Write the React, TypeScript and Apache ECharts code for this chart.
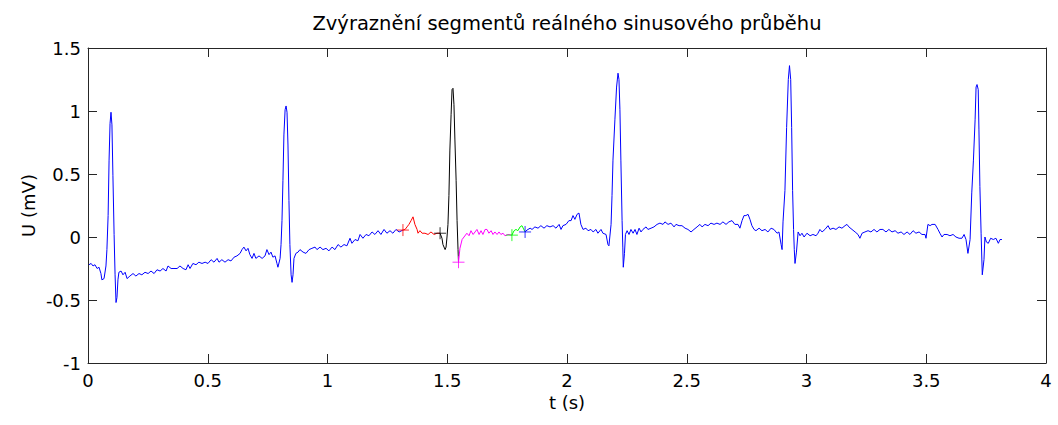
import React, { useEffect, useRef } from "react";
import * as echarts from "echarts";

const TITLE = "Zvýraznění segmentů reálného sinusového průběhu";
const X_NAME = "t (s)";
const Y_NAME = "U (mV)";

// [t (s), U (mV)]
const blueA: number[][] = [
  [0.004, -0.22], [0.013, -0.21], [0.021, -0.23], [0.029, -0.22], [0.038, -0.25], [0.046, -0.24],
  [0.054, -0.29], [0.058, -0.34], [0.067, -0.33], [0.075, -0.23], [0.079, -0.10], [0.084, 0.17],
  [0.088, 0.61], [0.092, 0.90], [0.096, 0.99], [0.100, 0.89], [0.104, 0.49], [0.109, 0.02],
  [0.113, -0.30], [0.117, -0.52], [0.121, -0.48], [0.125, -0.34], [0.129, -0.28], [0.138, -0.27],
  [0.146, -0.30], [0.155, -0.28], [0.163, -0.33], [0.175, -0.31], [0.188, -0.29], [0.200, -0.31],
  [0.213, -0.29], [0.225, -0.30], [0.238, -0.28], [0.251, -0.29], [0.263, -0.27], [0.276, -0.29],
  [0.288, -0.26], [0.301, -0.27], [0.313, -0.25], [0.326, -0.27], [0.334, -0.23], [0.347, -0.25],
  [0.359, -0.25], [0.372, -0.25], [0.384, -0.23], [0.397, -0.25], [0.409, -0.26], [0.418, -0.22],
  [0.426, -0.25], [0.438, -0.21], [0.451, -0.22], [0.463, -0.20], [0.476, -0.21], [0.489, -0.20],
  [0.501, -0.21], [0.514, -0.18], [0.526, -0.20], [0.539, -0.17], [0.547, -0.20], [0.559, -0.18],
  [0.572, -0.20], [0.585, -0.18], [0.597, -0.19], [0.610, -0.16], [0.622, -0.15], [0.635, -0.13],
  [0.643, -0.10], [0.651, -0.08], [0.660, -0.11], [0.668, -0.09], [0.676, -0.14], [0.685, -0.17],
  [0.693, -0.13], [0.701, -0.17], [0.714, -0.15], [0.727, -0.17], [0.739, -0.15], [0.747, -0.10],
  [0.756, -0.14], [0.764, -0.12], [0.772, -0.16], [0.781, -0.15], [0.789, -0.21], [0.793, -0.24],
  [0.802, -0.17], [0.806, -0.06], [0.810, 0.13], [0.814, 0.45], [0.818, 0.81], [0.823, 1.01],
  [0.827, 1.04], [0.831, 0.99], [0.835, 0.73], [0.839, 0.29], [0.843, -0.06], [0.848, -0.30],
  [0.852, -0.36], [0.856, -0.30], [0.860, -0.17], [0.868, -0.13], [0.877, -0.12], [0.885, -0.10],
  [0.898, -0.12], [0.910, -0.13], [0.923, -0.10], [0.935, -0.09], [0.948, -0.08], [0.956, -0.10],
  [0.969, -0.08], [0.981, -0.10], [0.994, -0.09], [1.006, -0.11], [1.019, -0.08], [1.031, -0.10],
  [1.044, -0.06], [1.056, -0.08], [1.069, -0.06], [1.081, -0.07], [1.094, -0.01], [1.102, -0.05],
  [1.115, -0.02], [1.127, -0.03], [1.136, 0.02], [1.148, -0.01], [1.161, 0.02], [1.173, 0.01],
  [1.186, 0.04], [1.198, 0.02], [1.211, 0.05], [1.223, 0.02], [1.236, 0.06], [1.248, 0.03],
  [1.261, 0.05], [1.273, 0.03], [1.286, 0.06], [1.299, 0.04], [1.315, 0.055],
];

const red: number[][] = [
  [1.315, 0.055], [1.324, 0.06], [1.332, 0.08], [1.340, 0.10], [1.349, 0.13], [1.357, 0.16],
  [1.365, 0.10], [1.374, 0.06], [1.378, 0.03], [1.386, 0.05], [1.395, 0.03], [1.407, 0.03],
  [1.420, 0.02], [1.432, 0.04], [1.445, 0.02], [1.457, 0.03], [1.470, 0.03],
];

const black: number[][] = [
  [1.470, 0.03], [1.478, -0.01], [1.482, -0.06], [1.491, -0.10], [1.495, -0.08], [1.499, 0.00],
  [1.503, 0.10], [1.507, 0.33], [1.511, 0.69], [1.516, 0.97], [1.520, 1.17], [1.524, 1.18],
  [1.528, 1.05], [1.532, 0.77], [1.537, 0.45], [1.541, 0.13], [1.545, -0.10], [1.547, -0.20],
];

const magenta: number[][] = [
  [1.547, -0.20], [1.553, -0.09], [1.562, -0.02], [1.570, 0.00], [1.582, 0.03], [1.591, 0.01],
  [1.599, 0.05], [1.608, 0.02], [1.616, 0.04], [1.624, 0.06], [1.633, 0.02], [1.641, 0.05],
  [1.649, 0.02], [1.658, 0.06], [1.666, 0.06], [1.674, 0.03], [1.683, 0.05], [1.691, 0.02],
  [1.699, 0.04], [1.708, 0.02], [1.716, 0.04], [1.724, 0.02], [1.733, 0.03], [1.741, 0.01],
  [1.754, 0.02], [1.770, 0.015],
];

const green: number[][] = [
  [1.770, 0.015], [1.779, 0.05], [1.787, 0.06], [1.795, 0.05], [1.804, 0.08], [1.812, 0.09],
  [1.825, 0.04],
];

const blueB: number[][] = [
  [1.825, 0.04], [1.833, 0.055], [1.846, 0.07], [1.854, 0.06], [1.866, 0.08], [1.879, 0.07],
  [1.891, 0.09], [1.904, 0.07], [1.916, 0.09], [1.929, 0.08], [1.942, 0.09], [1.954, 0.07],
  [1.967, 0.10], [1.975, 0.06], [1.983, 0.09], [1.996, 0.10], [2.008, 0.13], [2.017, 0.13],
  [2.025, 0.17], [2.033, 0.14], [2.042, 0.18], [2.050, 0.19], [2.058, 0.10], [2.067, 0.06],
  [2.079, 0.07], [2.088, 0.05], [2.100, 0.06], [2.109, 0.04], [2.121, 0.06], [2.129, 0.03],
  [2.142, 0.06], [2.150, 0.03], [2.163, 0.02], [2.171, -0.06], [2.175, -0.07], [2.184, 0.10],
  [2.188, 0.33], [2.192, 0.61], [2.200, 0.93], [2.207, 1.19], [2.213, 1.30], [2.217, 1.25],
  [2.221, 1.01], [2.225, 0.61], [2.230, 0.13], [2.233, -0.08], [2.235, -0.24], [2.240, -0.13],
  [2.244, 0.02], [2.251, 0.05], [2.259, 0.02], [2.267, 0.06], [2.276, 0.03], [2.284, 0.06],
  [2.292, 0.02], [2.301, 0.07], [2.309, 0.04], [2.317, 0.06], [2.330, 0.08], [2.338, 0.06],
  [2.351, 0.07], [2.363, 0.08], [2.376, 0.10], [2.388, 0.11], [2.401, 0.10], [2.409, 0.12],
  [2.422, 0.10], [2.434, 0.11], [2.447, 0.08], [2.455, 0.10], [2.468, 0.09], [2.480, 0.09],
  [2.493, 0.07], [2.505, 0.06], [2.518, 0.04], [2.530, 0.06], [2.543, 0.08], [2.555, 0.10],
  [2.564, 0.08], [2.576, 0.10], [2.589, 0.09], [2.601, 0.11], [2.614, 0.10], [2.626, 0.11],
  [2.639, 0.10], [2.651, 0.12], [2.664, 0.10], [2.676, 0.12], [2.689, 0.13], [2.701, 0.10],
  [2.714, 0.10], [2.722, 0.07], [2.731, 0.13], [2.739, 0.17], [2.747, 0.17], [2.756, 0.18],
  [2.764, 0.14], [2.772, 0.09], [2.781, 0.06], [2.789, 0.05], [2.802, 0.07], [2.814, 0.05],
  [2.827, 0.06], [2.839, 0.04], [2.852, 0.07], [2.864, 0.06], [2.877, 0.03], [2.885, 0.04],
  [2.894, -0.06], [2.898, -0.10], [2.902, 0.12], [2.910, 0.37], [2.917, 0.87], [2.924, 1.25],
  [2.929, 1.36], [2.934, 1.25], [2.938, 0.87], [2.942, 0.37], [2.946, 0.06], [2.949, -0.10],
  [2.952, -0.21], [2.958, -0.12], [2.965, 0.04], [2.973, 0.01], [2.981, 0.03], [2.990, 0.00],
  [3.002, 0.03], [3.015, 0.01], [3.027, 0.02], [3.040, 0.01], [3.048, 0.03], [3.056, 0.06],
  [3.065, 0.04], [3.077, 0.06], [3.090, 0.09], [3.098, 0.06], [3.111, 0.07], [3.123, 0.06],
  [3.136, 0.08], [3.148, 0.07], [3.161, 0.09], [3.169, 0.10], [3.177, 0.08], [3.190, 0.06],
  [3.203, 0.04], [3.215, 0.02], [3.223, -0.01], [3.232, 0.03], [3.244, 0.04], [3.257, 0.05],
  [3.269, 0.04], [3.282, 0.06], [3.294, 0.04], [3.307, 0.06], [3.319, 0.06], [3.332, 0.04],
  [3.344, 0.06], [3.357, 0.04], [3.370, 0.05], [3.382, 0.03], [3.395, 0.04], [3.407, 0.02],
  [3.420, 0.04], [3.432, 0.02], [3.445, 0.05], [3.457, 0.03], [3.470, 0.04], [3.482, 0.02],
  [3.495, 0.02], [3.499, -0.01], [3.507, 0.10], [3.516, 0.09], [3.524, 0.10], [3.537, 0.10],
  [3.549, 0.06], [3.557, 0.03], [3.566, 0.00], [3.574, 0.02], [3.587, 0.02], [3.599, 0.01],
  [3.612, 0.02], [3.624, 0.00], [3.637, -0.01], [3.649, -0.01], [3.658, 0.02], [3.666, -0.02],
  [3.674, -0.13], [3.683, -0.02], [3.690, 0.35], [3.697, 0.61], [3.704, 0.93], [3.708, 1.19],
  [3.712, 1.21], [3.717, 1.17], [3.720, 0.85], [3.724, 0.40], [3.729, 0.03], [3.734, -0.30],
  [3.741, -0.18], [3.745, 0.00], [3.751, -0.04], [3.759, -0.05], [3.769, -0.01], [3.780, -0.02],
  [3.791, -0.01], [3.801, -0.05], [3.808, -0.02], [3.816, -0.02],
];

// segment boundary markers
const markRed = [1.315, 0.055];
const markBlack = [1.470, 0.03];
const markMagenta = [1.547, -0.20];
const markGreen = [1.770, 0.015];
const markBlue = [1.825, 0.04];

const FONT = "'DejaVu Sans', 'Liberation Sans', Arial, sans-serif";
const AXIS_COLOR = "#262626";
const PLUS = "path://M5,0L5,10M0,5L10,5";

function lineSeries(data: number[][], color: string) {
  return {
    type: "line",
    data,
    showSymbol: false,
    symbol: "none",
    lineStyle: { color, width: 1 },
    itemStyle: { color },
    silent: true,
    z: 3,
  };
}

function markSeries(p: number[], color: string) {
  return {
    type: "scatter",
    data: [p],
    symbol: PLUS,
    symbolSize: 12,
    itemStyle: { color: "transparent", borderColor: color, borderWidth: 1 },
    silent: true,
    z: 4,
  };
}

export default function App() {
  const ref = useRef<HTMLDivElement>(null);
  useEffect(() => {
    if (!ref.current) return;
    const chart = echarts.init(ref.current, undefined, { renderer: "svg" });
    const baseX = {
      type: "value",
      min: 0,
      max: 4,
      interval: 0.5,
      axisLine: { show: true, onZero: false, lineStyle: { color: AXIS_COLOR, width: 1 } },
      axisTick: { show: true, inside: true, length: 9, lineStyle: { color: AXIS_COLOR } },
      splitLine: { show: false },
    };
    const baseY = {
      type: "value",
      min: -1,
      max: 1.5,
      interval: 0.5,
      axisLine: { show: true, onZero: false, lineStyle: { color: AXIS_COLOR, width: 1 } },
      axisTick: { show: true, inside: true, length: 9, lineStyle: { color: AXIS_COLOR } },
      splitLine: { show: false },
    };
    chart.setOption({
      animation: false,
      backgroundColor: "#ffffff",
      textStyle: { fontFamily: FONT },
      grid: { left: 88, top: 48, width: 958, height: 315, containLabel: false },
      graphic: [
        {
          type: "text",
          x: 567,
          y: 23,
          style: {
            text: TITLE,
            fill: "#000",
            font: `19.5px ${FONT}`,
            textAlign: "center",
            textVerticalAlign: "middle",
          },
        },
      ],
      xAxis: [
        {
          ...baseX,
          position: "bottom",
          name: X_NAME,
          nameLocation: "middle",
          nameGap: 30,
          nameMoveOverlap: false,
          nameTextStyle: { color: "#000", fontSize: 18, fontFamily: FONT },
          axisLabel: { color: "#000", fontSize: 18, fontFamily: FONT, margin: 8 },
        },
        {
          ...baseX,
          position: "top",
          axisLabel: { show: false },
        },
      ],
      yAxis: [
        {
          ...baseY,
          position: "left",
          name: Y_NAME,
          nameLocation: "middle",
          nameGap: 51,
          nameMoveOverlap: false,
          nameRotate: 90,
          nameTextStyle: { color: "#000", fontSize: 18, fontFamily: FONT },
          axisLabel: { color: "#000", fontSize: 18, fontFamily: FONT, margin: 7 },
        },
        {
          ...baseY,
          position: "right",
          axisLabel: { show: false },
        },
      ],
      series: [
        lineSeries(blueA, "#0000ff"),
        lineSeries(red, "#ff0000"),
        lineSeries(black, "#000000"),
        lineSeries(magenta, "#ff00ff"),
        lineSeries(green, "#00ff00"),
        lineSeries(blueB, "#0000ff"),
        markSeries(markRed, "#ff0000"),
        markSeries(markBlack, "#000000"),
        markSeries(markMagenta, "#ff00ff"),
        markSeries(markGreen, "#00ff00"),
        markSeries(markBlue, "#0000ff"),
      ],
    });
    return () => chart.dispose();
  }, []);
  return (
    <div
      ref={ref}
      style={{ position: "fixed", left: 0, top: 0, width: 1058, height: 425, background: "#fff" }}
    />
  );
}
